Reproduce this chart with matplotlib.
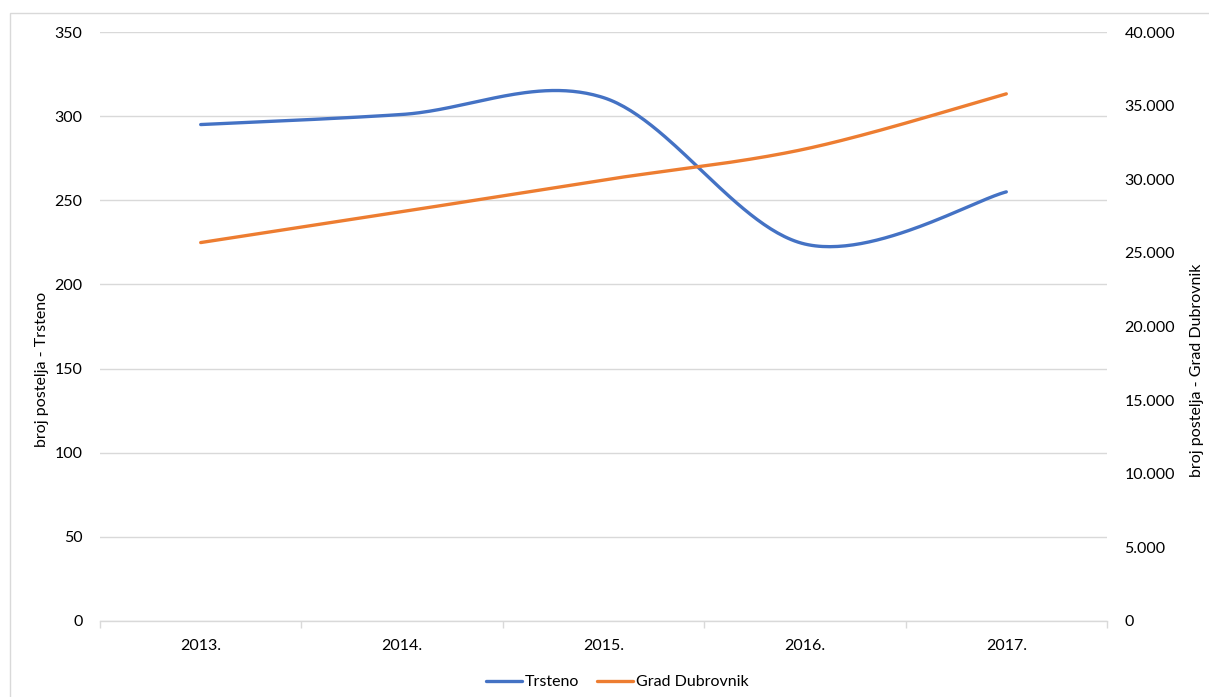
import matplotlib
matplotlib.use("Agg")
import matplotlib.pyplot as plt
from matplotlib.patches import Rectangle
from matplotlib.ticker import FuncFormatter
import numpy as np

years = ["2013.", "2014.", "2015.", "2016.", "2017."]
trsteno = [295, 301, 311, 224, 255]
dubrovnik = [25700, 27800, 29950, 32050, 35800]

plt.rcParams['font.family'] = ['Lato', 'DejaVu Sans']


def smooth(xs, ys, n=60):
    # excel-like smoothed line: cubic bezier, catmull-rom tangents
    xs = np.asarray(xs, float)
    ys = np.asarray(ys, float)
    px, py = [], []
    m = len(xs)
    for i in range(m - 1):
        i0 = max(i - 1, 0)
        i3 = min(i + 2, m - 1)
        c1x = xs[i] + (xs[i + 1] - xs[i0]) / 6
        c1y = ys[i] + (ys[i + 1] - ys[i0]) / 6
        c2x = xs[i + 1] - (xs[i3] - xs[i]) / 6
        c2y = ys[i + 1] - (ys[i3] - ys[i]) / 6
        t = np.linspace(0, 1, n)
        a, b, c, d = (1 - t) ** 3, 3 * (1 - t) ** 2 * t, 3 * (1 - t) * t ** 2, t ** 3
        px.extend(a * xs[i] + b * c1x + c * c2x + d * xs[i + 1])
        py.extend(a * ys[i] + b * c1y + c * c2y + d * ys[i + 1])
    return np.array(px), np.array(py)


W, H = 1209, 697
fig = plt.figure(figsize=(W / 100, H / 100), dpi=100)
fig.patches.append(Rectangle((10 / W, -0.1), 1.2, 1.1 - 13 / H, transform=fig.transFigure,
                             fill=False, edgecolor="#d9d9d9", linewidth=1.0))

ax = fig.add_axes([100 / W, 76 / H, 1007 / W, 589 / H])
ax2 = ax.twinx()

x = np.arange(len(years))
grid_c = "#d9d9d9"
txt_c = "#000000"
fs = 11.5

ax.set_xlim(-0.5, len(years) - 0.5)
ax.set_ylim(0, 350)
ax.set_yticks(np.arange(0, 351, 50))
ax2.set_ylim(0, 40000)
ax2.set_yticks(np.arange(0, 40001, 5000))
ax2.yaxis.set_major_formatter(FuncFormatter(lambda v, p: f"{int(v):,}".replace(",", ".")))

ax.grid(axis="y", color=grid_c, linewidth=1.0)
ax.set_axisbelow(True)

for a in (ax, ax2):
    for s in a.spines.values():
        s.set_visible(False)
ax.spines["bottom"].set_visible(True)
ax.spines["bottom"].set_color(grid_c)
ax.spines["bottom"].set_linewidth(1.0)

ax.set_xticks(np.arange(-0.5, len(years), 1.0))
ax.set_xticklabels([])
ax.set_xticks(x, minor=True)
ax.set_xticklabels(years, minor=True, fontsize=fs, color=txt_c)
ax.tick_params(axis="x", which="major", length=5, color=grid_c, width=1.0)
ax.tick_params(axis="x", which="minor", length=0, pad=13)
ax.tick_params(axis="y", length=0, pad=12.5, labelsize=fs, labelcolor=txt_c)
ax2.tick_params(axis="y", length=0, pad=12.5, labelsize=fs, labelcolor=txt_c)

sx, sy = smooth(x, trsteno)
l1, = ax.plot(sx, sy, color="#4472C4", linewidth=2.4, solid_capstyle="round", label="Trsteno")
sx, sy = smooth(x, dubrovnik)
l2, = ax2.plot(sx, sy, color="#ED7D31", linewidth=2.4, solid_capstyle="round", label="Grad Dubrovnik")

fig.text(42 / W, 1 - 369 / H, "broj postelja - Trsteno", rotation=90, fontsize=fs,
         color=txt_c, ha="center", va="center")
fig.text(1197 / W, 1 - 370 / H, "broj postelja - Grad Dubrovnik", rotation=90, fontsize=fs,
         color=txt_c, ha="center", va="center")

fig.legend(handles=[l1, l2], loc="center", bbox_to_anchor=(617 / W, 1 - 682 / H), ncol=2,
           frameon=False, fontsize=fs, handlelength=2.3, handletextpad=0.15, columnspacing=1.1)

fig.savefig("out.png", dpi=100)
